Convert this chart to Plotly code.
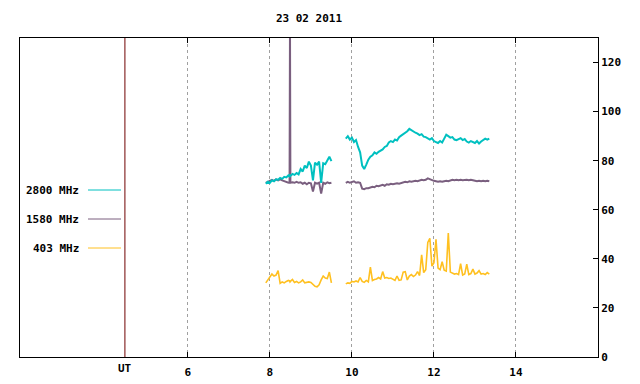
import plotly.graph_objects as go

# ---- data -------------------------------------------------------------
title_text = "23 02 2011"
series_names = ["2800 MHz", "1580 MHz", "403 MHz"]
series_colors = ["#00c0c0", "#7a5f7f", "#ffc020"]

t_seg1 = [7.90, 7.95, 8.00, 8.05, 8.10, 8.15, 8.20, 8.25, 8.30, 8.35, 8.40,
          8.45, 8.48, 8.49, 8.50, 8.55, 8.60, 8.65, 8.70, 8.75, 8.80, 8.85,
          8.90, 8.95, 9.00, 9.05, 9.10, 9.15, 9.20, 9.25, 9.30, 9.35, 9.40,
          9.45, 9.50]

t_seg2 = [9.85, 9.90, 9.95, 10.00, 10.05, 10.10, 10.15, 10.20, 10.25, 10.30,
          10.35, 10.40, 10.45, 10.50, 10.55, 10.60, 10.65, 10.70, 10.75, 10.80,
          10.85, 10.90, 10.95, 11.00, 11.05, 11.10, 11.15, 11.20, 11.25, 11.30,
          11.35, 11.40, 11.45, 11.50, 11.55, 11.60, 11.65, 11.70, 11.75, 11.80,
          11.85, 11.90, 11.95, 12.00, 12.05, 12.10, 12.15, 12.20, 12.25, 12.30,
          12.35, 12.40, 12.45, 12.50, 12.55, 12.60, 12.65, 12.70, 12.75, 12.80,
          12.85, 12.90, 12.95, 13.00, 13.05, 13.10, 13.15, 13.20, 13.25, 13.30,
          13.35]

mhz2800_seg1 = [70.6, 71.4, 71.0, 72.0, 71.6, 72.4, 72.2, 73.0, 72.6, 73.4, 73.2,
                74.0, 73.6, 74.0, 73.8, 74.6, 74.2, 75.0, 74.4, 76.6, 75.6, 78.0,
                77.0, 79.6, 78.0, 72.0, 79.2, 78.4, 79.6, 71.0, 79.0, 78.6, 80.2,
                81.6, 79.8]
mhz2800_seg2 = [89.0, 90.0, 88.6, 89.4, 87.6, 88.4, 85.6, 83.4, 78.0, 76.6,
                78.4, 80.4, 81.6, 82.2, 83.4, 82.8, 83.6, 84.0, 84.6, 85.6,
                86.0, 87.4, 88.0, 87.6, 88.6, 88.2, 89.6, 90.2, 90.8, 91.4,
                92.0, 93.0, 92.4, 92.0, 91.4, 91.0, 90.4, 90.8, 89.8, 89.6,
                89.0, 88.6, 89.2, 88.0, 87.6, 87.2, 88.0, 87.4, 89.0, 90.6,
                90.0, 89.4, 89.6, 88.6, 88.4, 88.8, 89.2, 88.4, 88.8, 87.8,
                87.4, 88.0, 87.6, 87.2, 88.0, 87.0, 87.8, 88.4, 89.0, 88.6,
                89.0]

mhz1580_seg1 = [71.0, 71.4, 71.8, 72.2, 71.8, 72.4, 72.0, 72.4, 72.0, 71.6, 71.4,
                71.0, 71.2, 135.0, 71.0, 71.2, 71.0, 71.4, 71.0, 71.2, 70.6, 71.0,
                70.4, 71.0, 70.8, 67.4, 71.0, 70.6, 71.0, 66.6, 71.0, 70.6, 71.2,
                70.8, 71.0]
mhz1580_seg2 = [71.0, 71.4, 71.0, 71.2, 71.6, 71.0, 71.2, 71.0, 68.6, 68.4,
                68.8, 68.8, 69.2, 69.4, 69.2, 69.8, 69.6, 70.0, 70.2, 69.8,
                70.4, 70.2, 70.6, 70.4, 70.6, 70.8, 70.6, 70.8, 71.0, 71.4,
                71.2, 71.6, 71.4, 71.6, 71.8, 71.6, 72.0, 72.2, 72.0, 72.2,
                72.8, 72.4, 72.0, 71.8, 71.6, 71.4, 71.6, 71.4, 71.6, 71.8,
                71.6, 72.0, 72.2, 72.0, 72.2, 72.0, 72.2, 72.0, 72.2, 72.2,
                72.0, 72.2, 72.0, 71.8, 71.6, 71.8, 71.6, 71.8, 71.6, 71.8,
                71.6]

mhz403_seg1 = [30.2, 31.5, 33.0, 33.8, 33.0, 33.4, 35.2, 30.0, 30.6, 30.2, 30.8,
               31.2, 31.0, 30.6, 30.8, 31.6, 30.4, 30.8, 30.2, 30.6, 31.4, 30.2,
               30.4, 30.6, 30.4, 29.6, 28.8, 28.6, 29.4, 31.4, 33.0, 32.2, 32.0,
               34.6, 30.2]
mhz403_seg2 = [29.8, 30.2, 30.0, 30.8, 30.6, 31.0, 30.6, 32.4, 30.8, 30.4,
               31.2, 30.6, 36.6, 31.2, 31.6, 31.8, 32.4, 31.8, 34.8, 32.2,
               32.4, 32.0, 32.2, 31.6, 31.2, 33.0, 31.2, 31.4, 34.6, 34.8,
               31.4, 33.0, 33.6, 32.8, 33.4, 34.8, 33.2, 41.6, 34.4, 35.6,
               46.7, 48.4, 37.0, 38.4, 48.0, 36.2, 35.6, 38.8, 35.4, 35.0,
               50.5, 34.6, 34.2, 33.8, 34.0, 33.6, 38.0, 33.4, 33.8, 37.8,
               33.6, 34.0, 35.8, 33.8, 34.2, 35.2, 33.8, 34.0, 33.6, 34.4,
               33.8]

x_tick_vals = [6, 8, 10, 12, 14]
x_tick_text = ["6", "8", "10", "12", "14"]
y_tick_vals = [0, 20, 40, 60, 80, 100, 120]
ut_position = 4.465
x_range = [1.907, 16]
y_range = [0, 130]

# ---- figure -----------------------------------------------------------
FONT = "DejaVu Sans Mono"
times = t_seg1 + [None] + t_seg2
series_values = [
    mhz2800_seg1 + [None] + mhz2800_seg2,
    mhz1580_seg1 + [None] + mhz1580_seg2,
    mhz403_seg1 + [None] + mhz403_seg2,
]
widths = [2, 2, 1.6]

fig = go.Figure()
for i in [2, 1, 0]:
    fig.add_trace(go.Scatter(x=times, y=series_values[i], mode="lines",
                             name=series_names[i], connectgaps=False,
                             line=dict(color=series_colors[i], width=widths[i])))

W, H = 640, 384
L, R, T, B = 20, 42, 38, 27
pw, ph = W - L - R, H - T - B

fig.update_layout(
    width=W, height=H, autosize=False,
    margin=dict(l=L, r=R, t=T, b=B, pad=0, autoexpand=False),
    paper_bgcolor="white", plot_bgcolor="white",
    showlegend=False,
    font=dict(family=FONT, size=11, color="black", weight="bold"),
    title=dict(text=title_text, x=(L + pw / 2) / W, xanchor="center",
               y=1 - 18 / H, yanchor="middle",
               font=dict(family=FONT, size=11, color="black", weight="bold")),
)
fig.update_xaxes(range=x_range, tickvals=x_tick_vals, ticktext=x_tick_text,
                 automargin=False,
                 showline=True, linecolor="black", linewidth=1, mirror="ticks",
                 ticks="inside", ticklen=5, tickcolor="black",
                 ticklabelstandoff=5,
                 showgrid=True, gridcolor="#a0a0a0", griddash="dot", gridwidth=1,
                 zeroline=False, tickfont=dict(size=11))
fig.update_yaxes(range=y_range, tickvals=y_tick_vals, side="right",
                 automargin=False,
                 showline=True, linecolor="black", linewidth=1, mirror=True,
                 ticks="inside", ticklen=5, tickcolor="black",
                 showgrid=False, zeroline=False, tickfont=dict(size=11))

fig.add_shape(type="line", xref="x", yref="paper", x0=ut_position, x1=ut_position,
              y0=0, y1=1, line=dict(color="#700000", width=1))
fig.add_annotation(xref="x", yref="paper", x=ut_position, y=-11 / ph,
                   text="UT", showarrow=False, xanchor="center", yanchor="middle",
                   font=dict(size=11))

legend_rows_px = [190, 219, 248]
for name, color, ypx in zip(series_names, series_colors, legend_rows_px):
    yp = 1 - (ypx - T) / ph
    fig.add_annotation(xref="paper", yref="paper", x=(81 - L) / pw, y=yp,
                       text=name, showarrow=False, xanchor="right",
                       yanchor="middle", font=dict(size=11))
    fig.add_shape(type="line", xref="paper", yref="paper",
                  x0=(88 - L) / pw, x1=(121 - L) / pw, y0=yp, y1=yp,
                  line=dict(color=color, width=1))

fig.write_html("out.html",
               config={"displayModeBar": False},
               post_script="document.body.style.margin='0';"
                           "document.body.style.overflow='hidden';")
